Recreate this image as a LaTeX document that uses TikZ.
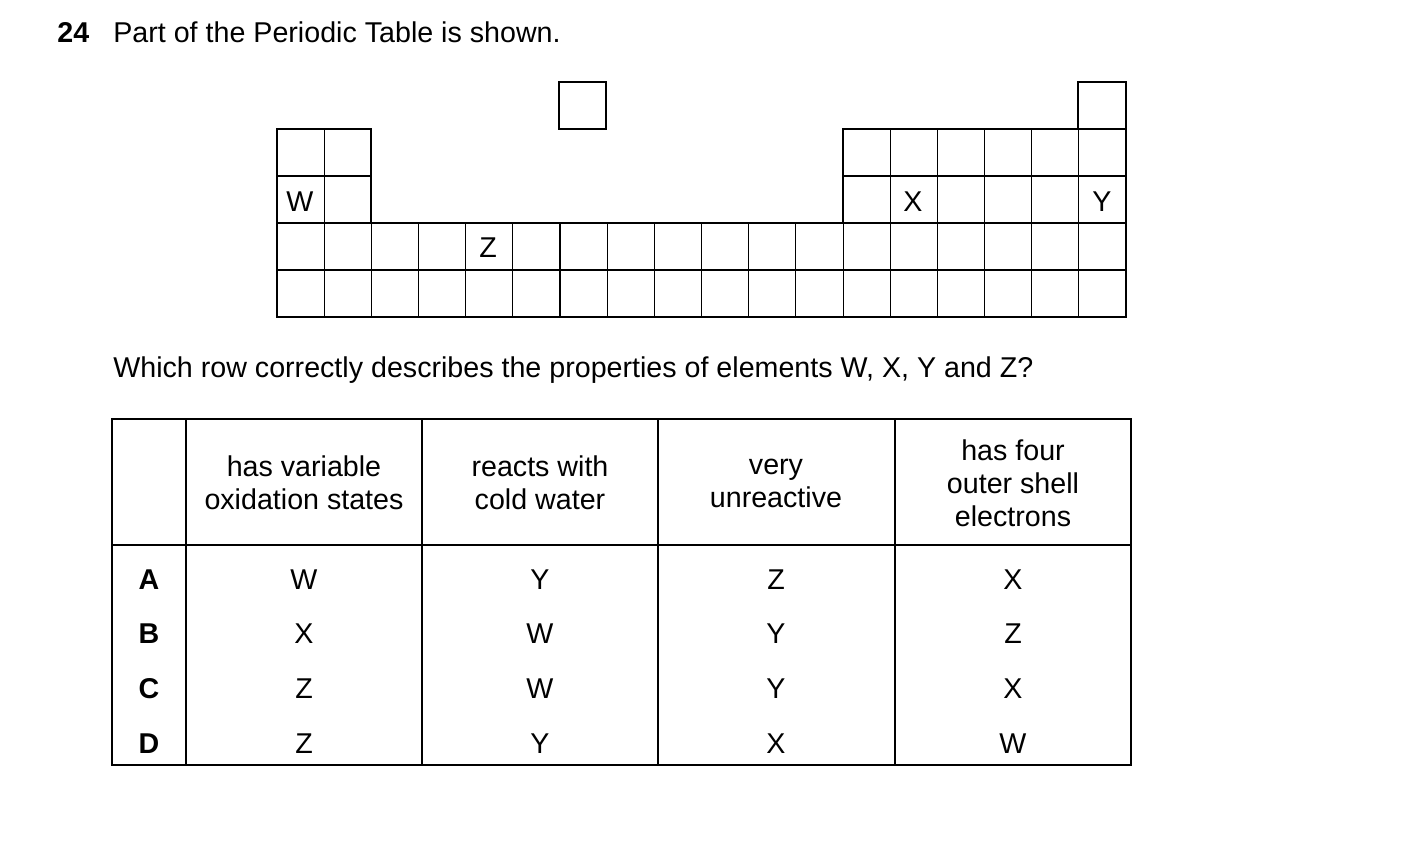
\documentclass[tikz,border=0pt]{standalone}
\usepackage{fontspec}
\setmainfont{Liberation Sans}
\usepackage{tikz}
\begin{document}
\begin{tikzpicture}[x=0.02cm,y=-0.02cm,
  txt/.style={font=\fontsize{16.3}{18.8}\selectfont,inner sep=0pt},
  cell/.style={line width=0.6pt},
  frame/.style={line width=1.4pt}]
  % Size definitions
  \def\cw{47.17}
  \useasboundingbox (0,0) rectangle (1403,859);

  % Question
  \node[txt,font=\fontsize{16.3}{18.8}\selectfont\bfseries,anchor=west] (num) at (57,32) {24};
  \node[txt,anchor=west] (title) at (113,32) {Part of the Periodic Table is shown.};

  % Thin cells of the table
  \foreach \c in {0,...,17} {
    \foreach \r in {2,3} {
      \draw[cell] (277+\c*\cw,129+\r*47) rectangle +(\cw,47);
    }
  }
  \foreach \c in {0,1,12,13,14,15,16,17} {
    \foreach \r in {0,1} {
      \draw[cell] (277+\c*\cw,129+\r*47) rectangle +(\cw,47);
    }
  }
  % Thick outline
  \draw[frame] (277,129) -- (371,129) -- (371,223) -- (843,223) -- (843,129)
    -- (1078,129) -- (1078,82) -- (1126,82) -- (1126,317) -- (277,317) -- cycle;
  \draw[frame] (559,82) rectangle (606,129);

  % Letters in the table
  \node[txt] (w) at (300,202) {W};
  \node[txt] (z) at (488,248) {Z};
  \node[txt] (x) at (913,202) {X};
  \node[txt] (y) at (1102,202) {Y};

  \node[txt,anchor=west] (ask) at (113,370) {Which row correctly describes the properties of elements W, X, Y and Z?};

  % Answer table
  \draw[cell] (112,419) rectangle (1131,765);
  \draw[cell] (112,545) -- (1131,545);
  \foreach \xx in {186,422,658,895} {
    \draw[cell] (\xx,419) -- (\xx,765);
  }
  \node[txt,align=center] (h1) at (304,483) {has variable\\oxidation states};
  \node[txt,align=center] (h2) at (540,483) {reacts with\\cold water};
  \node[txt,align=center] (h3) at (776,483) {very\\unreactive};
  \node[txt,align=center] (h4) at (1013,483) {has four\\outer shell\\electrons};

  \foreach \lab/\yy/\a/\b/\cc/\d in {A/580/W/Y/Z/X, B/634/X/W/Y/Z, C/689/Z/W/Y/X, D/744/Z/Y/X/W} {
    \node[txt,font=\fontsize{16.3}{18.8}\selectfont\bfseries] (r\lab) at (149,\yy) {\lab};
    \node[txt] (r\lab1) at (304,\yy) {\a};
    \node[txt] (r\lab2) at (540,\yy) {\b};
    \node[txt] (r\lab3) at (776,\yy) {\cc};
    \node[txt] (r\lab4) at (1013,\yy) {\d};
  }
\end{tikzpicture}
\end{document}
